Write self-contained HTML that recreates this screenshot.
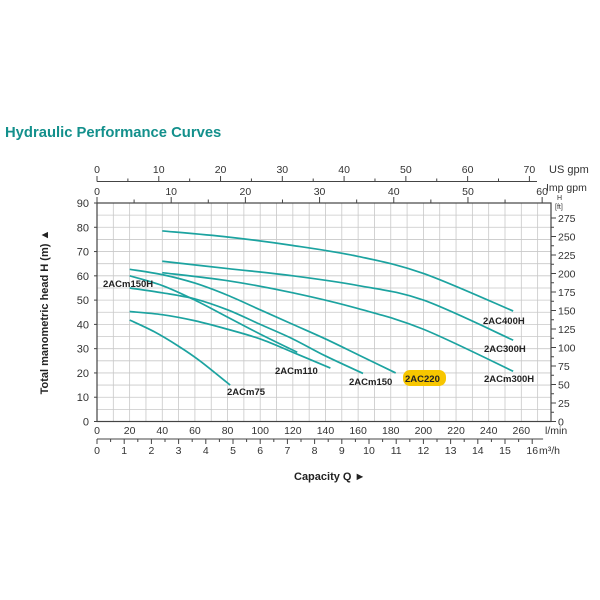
<!DOCTYPE html>
<html><head><meta charset="utf-8"><style>
html,body{margin:0;padding:0;background:#fff;}
svg{display:block;font-family:"Liberation Sans",Arial,sans-serif;}
</style></head><body>
<svg id="c" width="600" height="600" viewBox="0 0 600 600" xmlns="http://www.w3.org/2000/svg">
<text x="5" y="137" font-size="14.8" font-weight="bold" fill="#13908c">Hydraulic Performance Curves</text>
<g id="grid"></g>
<g id="axes"></g>
<g id="curves"></g>
<g id="labels"></g>
<text transform="translate(48,312) rotate(-90)" text-anchor="middle" font-size="11" font-weight="bold" fill="#222">Total manometric head H (m) ▲</text>
<text x="294" y="480" font-size="11" font-weight="bold" fill="#222">Capacity Q  ►</text>
</svg>
<script>
const seriesNames=["2AC400H","2AC300H","2ACm300H","2AC220","2ACm150","2ACm150H","2ACm110","2ACm75"];
const flow400H=[40,80,120,160,200,255], head400H=[78.5,76,72.5,68,61,45.5];
const flow300H=[40,80,120,160,200,255], head300H=[66,63,60,56,50,33.5];
const flowm300H=[40,80,120,160,200,255], headm300H=[61.3,58,53,46.5,38,20.7];
const flow220=[20,40,60,80,100,120,140,160,183], head220=[62.7,60.5,57,52,46,40,34,27.5,20];
const flowm150=[20,40,60,80,100,120,140,163], headm150=[55,53,50.5,46,40,34,27,19.8];
const flowm150H=[20,40,60,80,100,122.7], headm150H=[60,56,50,43,36,28.5];
const flowm110=[20,40,60,80,100,120,143], headm110=[45.3,44,41.5,38,34,28.5,22];
const flowm75=[20,35,50,63,81.6], headm75=[41.8,37,31,25,15];
const lminTicks=[0,20,40,60,80,100,120,140,160,180,200,220,240,260];
const m3hTicks=[0,1,2,3,4,5,6,7,8,9,10,11,12,13,14,15,16];
const usTicks=[0,10,20,30,40,50,60,70];
const impTicks=[0,10,20,30,40,50,60];
const hTicks=[0,10,20,30,40,50,60,70,80,90];
const ftTicks=[0,25,50,75,100,125,150,175,200,225,250,275];

const NS="http://www.w3.org/2000/svg";
const L=97,R=551,T=203,B=421.5;
const X=q=>L+q*1.632;
const Y=h=>B-h*(B-T)/90;
function mk(p,tag,a){const e=document.createElementNS(NS,tag);for(const k in a)e.setAttribute(k,a[k]);p.appendChild(e);return e;}
const g=document.getElementById('grid'),ax=document.getElementById('axes'),cv=document.getElementById('curves'),lb=document.getElementById('labels');
for(let q=10;q<278;q+=10){const e=mk(g,'line',{x1:X(q),x2:X(q),y1:T,y2:B,stroke:'#c8c8c8','stroke-width':0.8});

}
for(let h=5;h<90;h+=5){const e=mk(g,'line',{x1:L,x2:R,y1:Y(h),y2:Y(h),stroke:'#c8c8c8','stroke-width':0.8});

}
const fr=mk(ax,'rect',{x:L,y:T,width:R-L,height:B-T,fill:'none',stroke:'#444','stroke-width':1.2});


function txt(x,y,s,anchor,size){const t=mk(ax,'text',{x:x,y:y,'text-anchor':anchor||'middle','font-size':size||10.5,fill:'#333'});t.textContent=s;return t;}
hTicks.forEach(h=>{const t=txt(L-8,Y(h)+4,h,'end',11);


mk(ax,'line',{x1:L-3,x2:L,y1:Y(h),y2:Y(h),stroke:'#444'});});
for(let f=0;f<=280;f+=12.5){const m=f*0.3048;mk(ax,'line',{x1:R,x2:R+(f%25===0?5:3),y1:Y(m),y2:Y(m),stroke:'#444'});}
ftTicks.forEach(f=>{const t=txt(R+7,Y(f*0.3048)+4,f,'start',10.5);

});
txt(R+6,200,'H','start',7);txt(R+4,209,'[ft]','start',7);
lminTicks.forEach(q=>{const t=txt(X(q),434,q);

});
txt(R-6,434,'l/min','start',10.5);
mk(ax,'line',{x1:L,x2:X(16.4*16.667),y1:439,y2:439,stroke:'#444'});
for(let v=0;v<=16;v+=0.5){mk(ax,'line',{x1:X(v*16.667),x2:X(v*16.667),y1:439,y2:v%1===0?444:442,stroke:'#444'});}
m3hTicks.forEach(v=>{const t=txt(X(v*16.667),454,v);

});
txt(R-12,454,'m³/h','start',10.5);
mk(ax,'line',{x1:L,x2:537,y1:181.5,y2:181.5,stroke:'#444'});
for(let v=0;v<=71;v+=5){mk(ax,'line',{x1:X(v*3.785),x2:X(v*3.785),y1:181.5,y2:v%10===0?176:178.5,stroke:'#444'});}
usTicks.forEach(v=>{const t=txt(X(v*3.785),173,v);

});
txt(549,173,'US gpm','start',11);
for(let v=0;v<=60;v+=5){mk(ax,'line',{x1:X(v*4.546),x2:X(v*4.546),y1:T,y2:v%10===0?197:199.5,stroke:'#444'});}
impTicks.forEach(v=>{const t=txt(X(v*4.546),195,v);

});
txt(546,191,'Imp gpm','start',10.5);
const sets=[[flow400H,head400H],[flow300H,head300H],[flowm300H,headm300H],[flow220,head220],[flowm150,headm150],[flowm150H,headm150H],[flowm110,headm110],[flowm75,headm75]];
function smooth(pts){let d='M'+pts[0][0]+','+pts[0][1];for(let i=0;i<pts.length-1;i++){const p0=pts[i-1]||pts[i],p1=pts[i],p2=pts[i+1],p3=pts[i+2]||p2;
d+=' C'+(p1[0]+(p2[0]-p0[0])/6)+','+(p1[1]+(p2[1]-p0[1])/6)+' '+(p2[0]-(p3[0]-p1[0])/6)+','+(p2[1]-(p3[1]-p1[1])/6)+' '+p2[0]+','+p2[1];}return d;}
sets.forEach((s,i)=>{const pts=s[0].map((q,j)=>[X(q),Y(s[1][j])]);
const p=mk(cv,'path',{d:smooth(pts),fill:'none',stroke:'#1ca3a0','stroke-width':1.7});

});
const labs=[["2AC400H",483,324],["2AC300H",484,352],["2ACm300H",484,382],["2AC220",405,382],["2ACm150",349,385],["2ACm150H",103,287],["2ACm110",275,374],["2ACm75",227,395]];
labs.forEach(l=>{if(l[0]==="2AC220"){const r=mk(lb,'rect',{x:403,y:370,width:43,height:16,rx:7,fill:'#f7c600'});

}
const t=mk(lb,'text',{x:l[1],y:l[2],'font-size':9.5,'font-weight':'bold',fill:'#222'});t.textContent=l[0];

});
</script>
</body></html>
